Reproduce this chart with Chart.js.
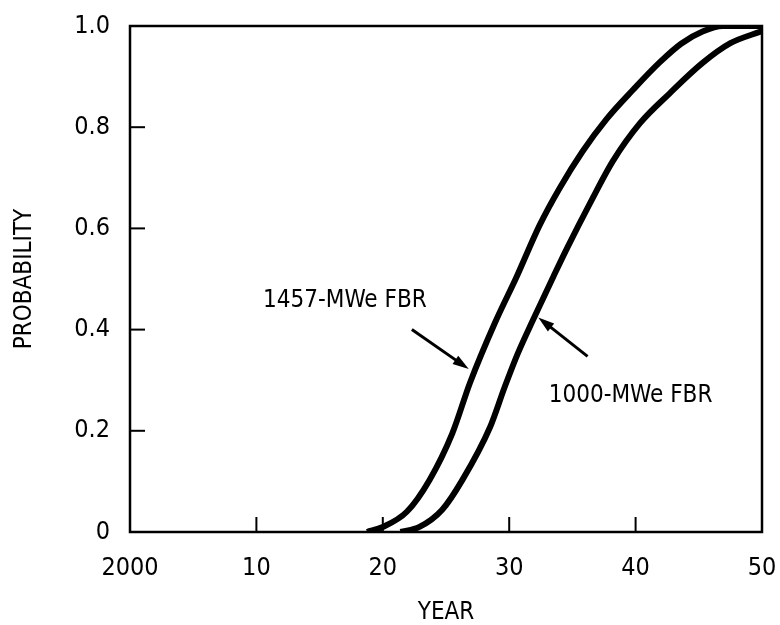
<!DOCTYPE html>
<html>
<head>
<meta charset="utf-8">
<script src="https://cdn.jsdelivr.net/npm/chart.js@4/dist/chart.umd.min.js"></script>
<style>
  html, body { margin: 0; padding: 0; background: #fff; }
  #wrap { width: 780px; height: 625px; }
</style>
</head>
<body>
<div id="wrap"><canvas id="chart" width="780" height="625"></canvas></div>
<script>
// values
const years1457 = [2018.75, 2020.0, 2021.9, 2023.7, 2025.5, 2026.9, 2028.9, 2030.6, 2032.4, 2034.0, 2035.8, 2037.7, 2039.8, 2041.9, 2043.6, 2045.3, 2046.9, 2048.5, 2050];
const prob1457  = [0, 0.010, 0.040, 0.103, 0.195, 0.295, 0.415, 0.505, 0.606, 0.680, 0.752, 0.816, 0.874, 0.928, 0.965, 0.989, 1.0, 1.0, 1.0];
const years1000 = [2021.4, 2022.9, 2024.7, 2026.3, 2028.5, 2029.65, 2030.7, 2031.9, 2033.5, 2034.6, 2036.4, 2038.2, 2040.35, 2042.7, 2045.3, 2047.5, 2050];
const prob1000  = [0, 0.010, 0.044, 0.103, 0.208, 0.287, 0.354, 0.420, 0.505, 0.562, 0.650, 0.733, 0.808, 0.867, 0.927, 0.966, 0.99];

const xTickValues = [2000, 2010, 2020, 2030, 2040, 2050];
const xTickLabels = ['2000', '10', '20', '30', '40', '50'];
const yTickValues = [0, 0.2, 0.4, 0.6, 0.8, 1.0];
const yTickLabels = ['0', '0.2', '0.4', '0.6', '0.8', '1.0'];

const seriesNames = ['1457-MWe FBR', '1000-MWe FBR'];
// label text position and arrow (tail -> head), in data units
const labelPos = [[2017.0, 0.457], [2039.6, 0.269]];
const arrowTail = [[2022.3, 0.400], [2036.2, 0.347]];
const arrowHead = [[2026.8, 0.322], [2032.3, 0.424]];

const FONT = '"Liberation Sans Narrow", "DejaVu Sans Condensed", sans-serif';

function pts(xs, ys) {
    return xs.map((x, i) => ({x: x, y: ys[i]}));
}

const frame = {
    id: 'frame',
    afterDraw(chart) {
        const ctx = chart.ctx;
        const a = chart.chartArea;
        const xs = chart.scales.x, ys = chart.scales.y;
        ctx.save();
        ctx.strokeStyle = '#000';
        ctx.lineWidth = 2.5;
        ctx.strokeRect(a.left, a.top, a.right - a.left, a.bottom - a.top);
        // inward ticks
        ctx.lineWidth = 2;
        xTickValues.slice(1, -1).forEach(v => {
            const px = xs.getPixelForValue(v);
            ctx.beginPath();
            ctx.moveTo(px, a.bottom);
            ctx.lineTo(px, a.bottom - 15);
            ctx.stroke();
        });
        yTickValues.slice(1, -1).forEach(v => {
            const py = ys.getPixelForValue(v);
            ctx.beginPath();
            ctx.moveTo(a.left, py);
            ctx.lineTo(a.left + 15, py);
            ctx.stroke();
        });
        // curve labels and arrows
        ctx.fillStyle = '#000';
        ctx.font = '24px ' + FONT;
        ctx.textAlign = 'center';
        ctx.textBaseline = 'middle';
        seriesNames.forEach((name, i) => {
            ctx.fillText(name, xs.getPixelForValue(labelPos[i][0]), ys.getPixelForValue(labelPos[i][1]));
            const x0 = xs.getPixelForValue(arrowTail[i][0]), y0 = ys.getPixelForValue(arrowTail[i][1]);
            const x1 = xs.getPixelForValue(arrowHead[i][0]), y1 = ys.getPixelForValue(arrowHead[i][1]);
            const ang = Math.atan2(y1 - y0, x1 - x0);
            ctx.lineWidth = 3;
            ctx.beginPath();
            ctx.moveTo(x0, y0);
            ctx.lineTo(x1 - 10 * Math.cos(ang), y1 - 10 * Math.sin(ang));
            ctx.stroke();
            ctx.beginPath();
            ctx.moveTo(x1, y1);
            ctx.lineTo(x1 - 17 * Math.cos(ang - 0.3), y1 - 17 * Math.sin(ang - 0.3));
            ctx.lineTo(x1 - 17 * Math.cos(ang + 0.3), y1 - 17 * Math.sin(ang + 0.3));
            ctx.closePath();
            ctx.fill();
        });
        ctx.restore();
    }
};

const ctx = document.getElementById('chart').getContext('2d');
new Chart(ctx, {
    type: 'line',
    data: {
        datasets: [
            { label: seriesNames[0], data: pts(years1457, prob1457) },
            { label: seriesNames[1], data: pts(years1000, prob1000) }
        ]
    },
    options: {
        responsive: false,
        animation: false,
        layout: { padding: { top: 26, right: 18, bottom: 0, left: 0 } },
        elements: {
            point: { radius: 0 },
            line: { borderColor: '#000', borderWidth: 6, cubicInterpolationMode: 'monotone', fill: false }
        },
        plugins: { legend: { display: false }, tooltip: { enabled: false } },
        scales: {
            x: {
                type: 'linear',
                min: 2000, max: 2050,
                afterBuildTicks: s => { s.ticks = xTickValues.map(v => ({value: v})); },
                afterFit: s => { s.height = 93; s.paddingLeft = 0; s.paddingRight = 0; },
                grid: { display: false, drawTicks: false },
                border: { display: false },
                ticks: {
                    color: '#000',
                    padding: 21,
                    maxRotation: 0,
                    font: { family: FONT, size: 25 },
                    callback: v => xTickLabels[xTickValues.indexOf(v)]
                },
                title: {
                    display: true, text: 'YEAR', color: '#000',
                    font: { family: FONT, size: 24, lineHeight: 1 },
                    padding: { top: 0, bottom: 0 }
                }
            },
            y: {
                min: 0, max: 1,
                afterBuildTicks: s => { s.ticks = yTickValues.map(v => ({value: v})); },
                afterFit: s => { s.width = 130; s.paddingTop = 0; s.paddingBottom = 0; },
                grid: { display: false, drawTicks: false },
                border: { display: false },
                ticks: {
                    color: '#000',
                    padding: 20,
                    font: { family: FONT, size: 25 },
                    callback: v => yTickLabels[yTickValues.indexOf(v)]
                },
                title: {
                    display: true, text: 'PROBABILITY', color: '#000',
                    font: { family: FONT, size: 24, lineHeight: 1 },
                    padding: { top: 13, bottom: 0 }
                }
            }
        }
    },
    plugins: [frame]
});
</script>
</body>
</html>
